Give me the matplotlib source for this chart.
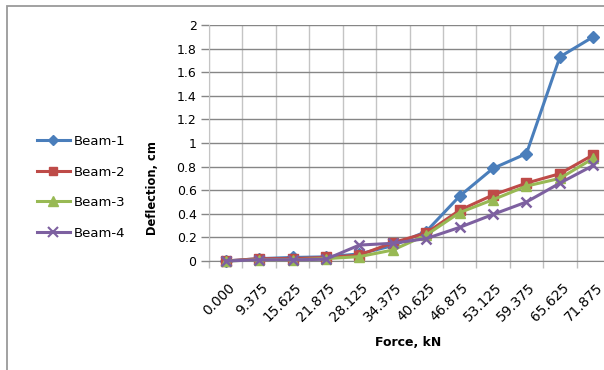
import matplotlib
matplotlib.use("Agg")
import matplotlib.pyplot as plt
from matplotlib.lines import Line2D
from matplotlib.patches import Rectangle
from matplotlib.transforms import ScaledTranslation
from matplotlib.ticker import FuncFormatter, MultipleLocator, FixedLocator

plt.rcParams['font.family'] = ['DejaVu Sans']

# Applied force categories (kN)
force_labels = ["0.000", "9.375", "15.625", "21.875", "28.125", "34.375",
                "40.625", "46.875", "53.125", "59.375", "65.625", "71.875"]

# Mid-span deflection (cm) for each beam
beam1 = [0.00, 0.02, 0.03, 0.035, 0.06, 0.13, 0.25, 0.55, 0.785, 0.91, 1.73, 1.90]
beam2 = [0.00, 0.02, 0.02, 0.03, 0.05, 0.155, 0.237, 0.43, 0.56, 0.66, 0.74, 0.90]
beam3 = [0.00, 0.01, 0.01, 0.02, 0.037, 0.093, 0.22, 0.41, 0.52, 0.635, 0.70, 0.87]
beam4 = [0.00, 0.01, 0.01, 0.015, 0.135, 0.15, 0.19, 0.285, 0.395, 0.50, 0.66, 0.81]

series_names = ["Beam-1", "Beam-2", "Beam-3", "Beam-4"]
series_values = [beam1, beam2, beam3, beam4]
series_colors = ["#4A7EBB", "#BE4B48", "#98B954", "#7D60A0"]
series_markers = ["D", "s", "^", "x"]
series_msize = [6.0, 7.0, 7.5, 7.5]

W, H = 604, 370
fig = plt.figure(figsize=(W / 100, H / 100), dpi=100)

# outer chart frame
fig.add_artist(Rectangle((7 / W, -0.05), 1.2, 1 - 6 / H + 0.05, transform=fig.transFigure,
                         fill=False, edgecolor="#9a9a9a", linewidth=1.3))

left, right, top, bottom = 209, 610, 25, 261
ax = fig.add_axes([left / W, 1 - bottom / H, (right - left) / W, (bottom - top) / H])

x = list(range(len(force_labels)))
for name, vals, col, mk, ms in zip(series_names, series_values, series_colors,
                                   series_markers, series_msize):
    mew = 1.8 if mk == "x" else 1.0
    ax.plot(x, vals, color=col, linewidth=2.2, marker=mk, markersize=ms,
            markerfacecolor=col, markeredgecolor=col, markeredgewidth=mew,
            label=name, clip_on=False, zorder=3)

ax.set_xlim(-0.5, len(force_labels) - 0.5)
ax.set_ylim(0, 2)

# y axis
ax.yaxis.set_major_locator(MultipleLocator(0.2))
ax.yaxis.set_major_formatter(FuncFormatter(lambda v, p: f"{v:.1f}".rstrip("0").rstrip(".")))
ax.tick_params(axis="y", which="major", length=6, width=1, color="#868686",
               pad=3, labelsize=9, labelcolor="black")
ax.grid(axis="y", which="major", color="#868686", linewidth=1.0)

# x axis: labels at category centres, ticks and gridlines at boundaries
ax.set_xticks(x)
ax.set_xticklabels(force_labels, rotation=45, ha="right", rotation_mode="anchor",
                   fontsize=9.8)
ax.tick_params(axis="x", which="major", length=0, pad=14)
ax.xaxis.set_minor_locator(FixedLocator([i - 0.5 for i in range(len(force_labels) + 1)]))
ax.tick_params(axis="x", which="minor", length=5, width=1, color="#bfbfbf")
ax.grid(axis="x", which="minor", color="#c4c4c4", linewidth=1.0)
ax.set_axisbelow(True)
shift = ScaledTranslation(2 / 100, 0, fig.dpi_scale_trans)
for lab in ax.get_xticklabels():
    lab.set_transform(lab.get_transform() + shift)

for s in ["top", "right"]:
    ax.spines[s].set_visible(False)
ax.spines["left"].set_color("#c4c4c4")
ax.spines["bottom"].set_color("#868686")

ax.set_ylabel("Deflection, cm", fontsize=8.3, fontweight="bold")
ax.yaxis.set_label_coords((152 - left) / (right - left), (bottom - 188) / (bottom - top))
ax.yaxis.label.set_va("center")
ax.set_xlabel("Force, kN", fontsize=9, fontweight="bold")
ax.xaxis.set_label_coords((408 - left) / (right - left), (bottom - 342) / (bottom - top))
ax.xaxis.label.set_va("center")

handles = [Line2D([0], [0], color=c, linewidth=2.2, marker=m, markersize=s * 0.9,
                  markerfacecolor=c, markeredgecolor=c,
                  markeredgewidth=(1.5 if m == "x" else 1.0))
           for c, m, s in zip(series_colors, series_markers, series_msize)]
fig.legend(handles, series_names, loc="upper left",
           bbox_to_anchor=(37 / W, 1 - 135 / H), frameon=False,
           fontsize=9.5, handlelength=2.5, handletextpad=0.3,
           labelspacing=1.33, borderpad=0, borderaxespad=0)

fig.savefig("out.png", dpi=100)
